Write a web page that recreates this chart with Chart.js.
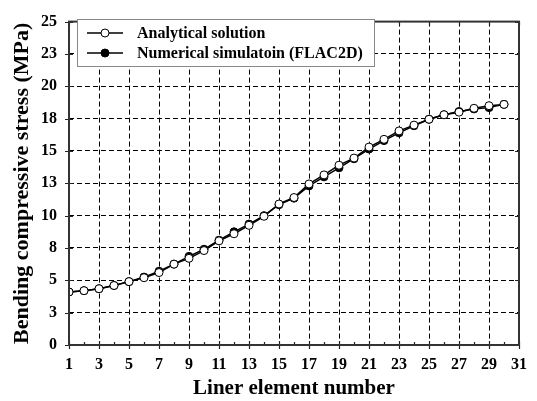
<!DOCTYPE html>
<html>
<head>
<meta charset="utf-8">
<script src="https://cdn.jsdelivr.net/npm/chart.js@4/dist/chart.umd.min.js"></script>
<style>
html,body{margin:0;padding:0;background:#fff;}
#wrap{width:537px;height:401px;}
</style>
</head>
<body>
<div id="wrap"><canvas id="c" width="537" height="401"></canvas></div>
<script>
const elements = [1,2,3,4,5,6,7,8,9,10,11,12,13,14,15,16,17,18,19,20,21,22,23,24,25,26,27,28,29,30];
const analytical = [4.1,4.2,4.35,4.6,4.9,5.2,5.6,6.25,6.7,7.3,8.05,8.6,9.25,9.95,10.9,11.4,12.45,13.15,13.9,14.45,15.3,15.9,16.55,17.0,17.45,17.8,18.0,18.3,18.5,18.6];
const numerical = [4.1,4.2,4.35,4.6,4.9,5.25,5.7,6.25,6.85,7.4,8.1,8.75,9.35,10.0,10.85,11.35,12.3,13.0,13.7,14.4,15.15,15.8,16.4,16.95,17.45,17.8,18.05,18.25,18.35,18.6];
const seriesLabels = ['Analytical solution','Numerical simulatoin (FLAC2D)'];
const xTitle = 'Liner element number';
const yTitle = 'Bending compressive stress (MPa)';
const xMin = 1, xMax = 31, xStep = 2;
const yMin = 0, yMax = 25, yStep = 2.5;

const FONT = "'Liberation Serif','Times New Roman',serif";

const framePlugin = {
  id: 'frame',
  afterDraw(chart) {
    const {ctx, chartArea: a, scales: {x, y}} = chart;
    ctx.save();
    ctx.strokeStyle = '#222';
    ctx.lineWidth = 1.2;
    ctx.setLineDash([]);
    // x ticks
    for (let v = xMin; v <= xMax; v++) {
      const px = Math.round(x.getPixelForValue(v)) + 0.5;
      ctx.beginPath();
      if ((v - xMin) % 2 === 0) {
        ctx.moveTo(px, a.bottom - 4); ctx.lineTo(px, a.bottom + 4);
        ctx.moveTo(px, a.top); ctx.lineTo(px, a.top + 4);
      } else {
        ctx.moveTo(px, a.bottom - 3); ctx.lineTo(px, a.bottom);
      }
      ctx.stroke();
    }
    // y ticks
    for (let v = yMin; v <= yMax + 1e-9; v += yStep) {
      const py = Math.round(y.getPixelForValue(v)) + 0.5;
      ctx.beginPath();
      ctx.moveTo(a.left - 4, py); ctx.lineTo(a.left + 4, py);
      ctx.moveTo(a.right - 4, py); ctx.lineTo(a.right, py);
      ctx.stroke();
    }
    // frame
    ctx.strokeStyle = '#333';
    ctx.lineWidth = 2;
    ctx.strokeRect(a.left, a.top, a.right - a.left, a.bottom - a.top);

    // legend box
    const bx = 77, by = 19, bw = 297, bh = 47;
    ctx.fillStyle = '#fff';
    ctx.fillRect(bx, by, bw, bh);
    ctx.strokeStyle = '#888';
    ctx.lineWidth = 1;
    ctx.strokeRect(bx + 0.5, by + 0.5, bw, bh);
    const rows = [33, 53];
    chart.data.datasets.forEach((ds, i) => {
      const ry = rows[i];
      ctx.strokeStyle = '#000';
      ctx.lineWidth = 1.5;
      ctx.beginPath();
      ctx.moveTo(87, ry); ctx.lineTo(123, ry);
      ctx.stroke();
      ctx.beginPath();
      ctx.arc(105, ry, 4, 0, Math.PI * 2);
      ctx.fillStyle = ds.pointBackgroundColor;
      ctx.fill();
      ctx.lineWidth = 1;
      ctx.stroke();
      ctx.fillStyle = '#000';
      ctx.font = "bold 16px " + FONT;
      ctx.textBaseline = 'middle';
      ctx.textAlign = 'left';
      ctx.fillText(ds.label, 137, ry + 1);
    });
    ctx.restore();
  }
};

const edgeColor = (min, max) => (c) => {
  const v = c.tick ? c.tick.value : null;
  if (v === null) return '#000';
  if (Math.abs(v - min) < 1e-9 || Math.abs(v - max) < 1e-9) return 'rgba(0,0,0,0)';
  return '#000';
};

new Chart(document.getElementById('c'), {
  type: 'line',
  data: {
    datasets: [
      {
        label: seriesLabels[0],
        data: elements.map((e, i) => ({x: e, y: analytical[i]})),
        borderColor: '#000',
        borderWidth: 1.5,
        pointRadius: 4,
        pointBorderWidth: 1,
        pointBackgroundColor: '#fff',
        pointBorderColor: '#000',
        tension: 0
      },
      {
        label: seriesLabels[1],
        data: elements.map((e, i) => ({x: e, y: numerical[i]})),
        borderColor: '#000',
        borderWidth: 1.5,
        pointRadius: 4,
        pointBorderWidth: 1,
        pointBackgroundColor: '#000',
        pointBorderColor: '#000',
        tension: 0
      }
    ]
  },
  options: {
    responsive: false,
    animation: false,
    layout: {padding: {left: 0, top: 13, right: 17, bottom: 0}},
    plugins: {legend: {display: false}, tooltip: {enabled: false}},
    scales: {
      x: {
        type: 'linear',
        min: xMin, max: xMax,
        afterFit(s) { s.height = 56; },
        ticks: {stepSize: xStep, color: '#000', padding: 10, font: {family: FONT, size: 16, weight: 'bold'}},
        grid: {color: edgeColor(xMin, xMax), lineWidth: 1, drawTicks: false},
        border: {display: false, dash: [5, 3]},
        title: {display: true, text: xTitle, color: '#000', padding: {top: 0, bottom: 0}, font: {family: FONT, size: 21, weight: 'bold'}}
      },
      y: {
        min: yMin, max: yMax,
        afterFit(s) { s.width = 69; },
        ticks: {stepSize: yStep, color: '#000', padding: 12, font: {family: FONT, size: 16, weight: 'bold'},
          callback: (v) => String(Math.round(v))},
        grid: {color: edgeColor(yMin, yMax), lineWidth: 1, drawTicks: false},
        border: {display: false, dash: [5, 3]},
        title: {display: true, text: yTitle, color: '#000', padding: {top: 9, bottom: 0}, font: {family: FONT, size: 22, weight: 'bold'}}
      }
    }
  },
  plugins: [framePlugin]
});
</script>
</body>
</html>
